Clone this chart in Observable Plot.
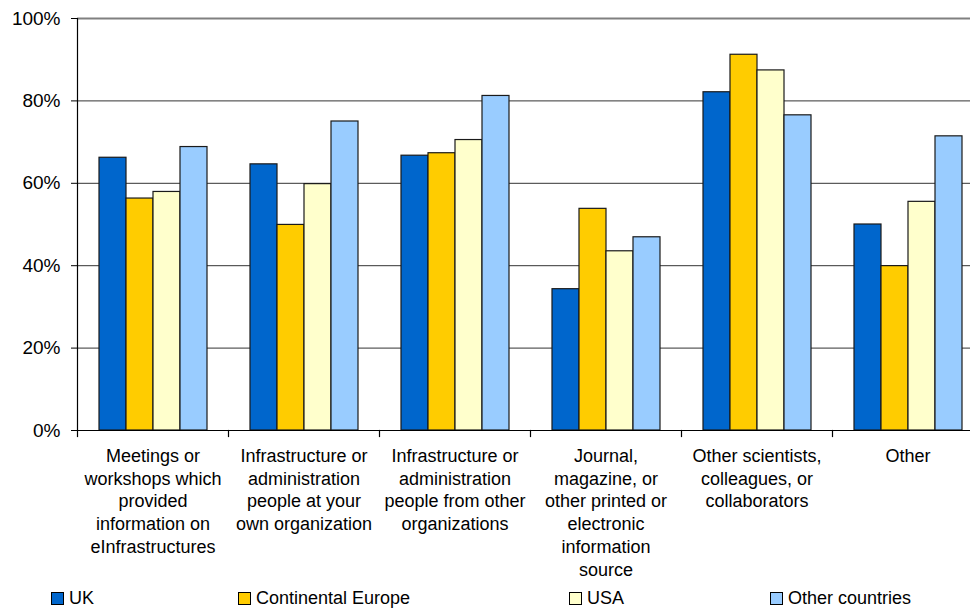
<!DOCTYPE html>
<html>
<head>
<meta charset="utf-8">
<script src="https://cdn.jsdelivr.net/npm/d3@7"></script>
<script src="https://cdn.jsdelivr.net/npm/@observablehq/plot@0.6"></script>
<style>
  html, body { margin: 0; padding: 0; background: #fff; overflow: hidden; }
  #wrap { position: relative; width: 970px; height: 610px; overflow: hidden; font-family: Arial, "Liberation Sans", sans-serif; }
  #legend { position: absolute; left: 0; top: 589px; width: 970px; height: 18px; font-size: 18px; color: #000; }
  .item { position: absolute; top: 0; height: 18px; display: flex; align-items: center; white-space: nowrap; }
  .sw { width: 11px; height: 11px; border: 1px solid #000; margin-right: 5px; }
</style>
</head>
<body>
<div id="wrap"><div id="chart"></div><div id="legend"></div></div>
<script>
const groups = [
  "Meetings or\nworkshops which\nprovided\ninformation on\neInfrastructures",
  "Infrastructure or\nadministration\npeople at your\nown organization",
  "Infrastructure or\nadministration\npeople from other\norganizations",
  "Journal,\nmagazine, or\nother printed or\nelectronic\ninformation\nsource",
  "Other scientists,\ncolleagues, or\ncollaborators",
  "Other"
];
const series = ["UK", "Continental Europe", "USA", "Other countries"];
const ukValues  = [66.2, 64.6, 66.7, 34.3, 82.1, 50.0];
const ceValues  = [56.3, 49.9, 67.3, 53.8, 91.2, 39.9];
const usaValues = [57.9, 59.8, 70.5, 43.5, 87.4, 55.5];
const ocValues  = [68.8, 75.0, 81.2, 46.9, 76.5, 71.4];
const yTicks = [0, 20, 40, 60, 80, 100];
const colors = ["#0066CC", "#FFCC00", "#FFFFCC", "#99CCFF"];
const legendLeft = [51, 238, 569, 770];

const valuesBySeries = [ukValues, ceValues, usaValues, ocValues];
const data = [];
groups.forEach((g, i) => series.forEach((s, j) => data.push({group: g, series: s, value: valuesBySeries[j][i]})));

const font = 'Arial, "Liberation Sans", sans-serif';
const chart = Plot.plot({
  width: 984,
  height: 590,
  marginTop: 18,
  marginBottom: 160,
  marginLeft: 75,
  marginRight: 0,
  style: {maxWidth: "none", fontFamily: font, fontSize: "18px", color: "#000", background: "#fff"},
  fx: {domain: groups, padding: 0, axis: null, label: null},
  x: {domain: series, paddingInner: 0, paddingOuter: 0.768, axis: null},
  y: {domain: [0, 100], axis: null, label: null},
  color: {domain: series, range: colors},
  marks: [
    Plot.ruleY(yTicks.filter(t => t > 0 && t < 100), {stroke: "#333", strokeWidth: 1}),
    Plot.ruleY([100], {stroke: "#808080", strokeWidth: 2}),
    Plot.barY(data, {fx: "group", x: "series", y: "value", fill: "series", stroke: "#1a1a1a", strokeWidth: 1.2}),
    Plot.ruleY([0], {stroke: "#000", strokeWidth: 1.2}),
    Plot.frame({anchor: "left", facet: "super", stroke: "#000", strokeWidth: 1.2}),
    Plot.frame({anchor: "left", insetTop: 412, insetBottom: -6, stroke: "#000", strokeWidth: 1.2}),
    Plot.axisY({ticks: yTicks, label: null, tickSize: 6, tickPadding: 11, tickFormat: d => d + "%", fontSize: 19, fill: "#000", stroke: "#000"}),
    Plot.text(groups, {fx: d => d, text: d => d, frameAnchor: "bottom", lineAnchor: "top", dy: 15, lineHeight: 1.27, fontSize: 18, fill: "#000"})
  ]
});
document.getElementById("chart").appendChild(chart);

const legend = document.getElementById("legend");
series.forEach((s, i) => {
  const item = document.createElement("div");
  item.className = "item";
  item.style.left = legendLeft[i] + "px";
  const sw = document.createElement("div");
  sw.className = "sw";
  sw.style.background = colors[i];
  const label = document.createElement("span");
  label.textContent = s;
  item.appendChild(sw);
  item.appendChild(label);
  legend.appendChild(item);
});
</script>
</body>
</html>
